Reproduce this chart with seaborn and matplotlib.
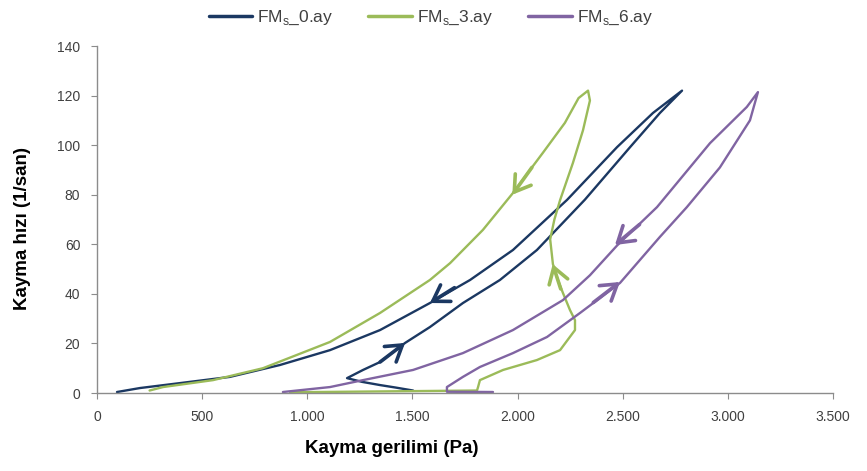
import matplotlib
matplotlib.use("Agg")
import matplotlib.pyplot as plt
import pandas as pd
import seaborn as sns

# Shear stress (Pa) / shear rate (1/s) loops: up-sweep followed by down-sweep
fm0_stress = [1503, 1420, 1346, 1260, 1189, 1265, 1346, 1465, 1583, 1740, 1916, 2092, 2320, 2535, 2677, 2782,
              2644, 2473, 2235, 1978, 1774, 1583, 1346, 1108, 870, 632, 395, 204, 95]
fm0_rate = [1.0, 2.2, 3.2, 4.5, 6.0, 9.3, 12.5, 20.2, 26.6, 36.3, 45.6, 57.7, 78.0, 99.2, 113.0, 122.0,
            113.0, 99.2, 77.9, 57.7, 45.6, 36.3, 25.4, 17.3, 11.3, 6.5, 4.0, 2.0, 0.4]

fm3_stress = [918, 1807, 1812, 1821, 1931, 2092, 2202, 2273, 2273, 2249, 2216, 2190, 2168, 2155, 2175, 2202,
              2263, 2311, 2344, 2335,
              2290, 2225, 2121, 2068, 1978, 1835, 1679, 1583, 1346, 1108, 789, 552, 314, 250]
fm3_rate = [0.3, 1.0, 2.4, 5.2, 9.3, 13.3, 17.3, 25.4, 29.4, 33.5, 40.3, 46.0, 52.0, 62.0, 70.0, 77.8,
            92.8, 106.0, 118.0, 122.0,
            119.0, 109.0, 97.0, 91.0, 80.7, 65.8, 52.4, 45.6, 32.3, 20.6, 10.0, 5.2, 2.4, 1.0]

fm6_stress = [1883, 1664, 1664, 1740, 1821, 1978, 2140, 2297, 2487, 2677, 2805, 2962, 3105, 3143,
              3090, 2915, 2663, 2473, 2344, 2216, 1978, 1740, 1503, 1265, 1108, 884]
fm6_rate = [0.4, 0.5, 2.4, 6.5, 10.5, 16.1, 22.6, 32.3, 44.4, 63.0, 75.0, 91.0, 110.0, 121.4,
            115.4, 100.8, 75.0, 59.5, 47.5, 37.5, 25.4, 16.1, 9.3, 5.2, 2.4, 0.4]

series_labels = [r"FM$_\mathrm{s}$_0.ay", r"FM$_\mathrm{s}$_3.ay", r"FM$_\mathrm{s}$_6.ay"]
series_colors = ["#1b3862", "#9bbb59", "#8064a2"]

x_ticks = [0, 500, 1000, 1500, 2000, 2500, 3000, 3500]
x_tick_labels = ["0", "500", "1.000", "1.500", "2.000", "2.500", "3.000", "3.500"]
y_ticks = [0, 20, 40, 60, 80, 100, 120, 140]

# Flow-direction chevrons: series index, tail and head (stress, rate)
arrow_series = [0, 0, 1, 1, 2, 2]
arrow_tails_x = [1700, 1346, 2068, 2205, 2580, 2360]
arrow_tails_y = [42.5, 12.5, 91.0, 42.0, 68.0, 36.5]
arrow_heads_x = [1583, 1465, 1975, 2167, 2463, 2487]
arrow_heads_y = [36.3, 20.2, 80.0, 52.0, 59.7, 44.8]

sns.set_style("ticks")
plt.rcParams["font.family"] = ["Liberation Sans", "DejaVu Sans"]
plt.rcParams["mathtext.fontset"] = "custom"
plt.rcParams["mathtext.rm"] = "Liberation Sans"

frames = []
for label, xs, ys in zip(series_labels,
                         [fm0_stress, fm3_stress, fm6_stress],
                         [fm0_rate, fm3_rate, fm6_rate]):
    frames.append(pd.DataFrame({"stress": xs, "rate": ys, "series": label}))
df = pd.concat(frames, ignore_index=True)

fig = plt.figure(figsize=(8.67, 4.71), dpi=100)
ax = fig.add_axes([0.1119, 0.1656, 0.8489, 0.7367])

for label, color in zip(series_labels, series_colors):
    sub = df[df["series"] == label]
    sns.lineplot(data=sub, x="stress", y="rate", sort=False, estimator=None,
                 color=color, linewidth=1.7, ax=ax, label=label)

for s, tx, ty, hx, hy in zip(arrow_series, arrow_tails_x, arrow_tails_y,
                             arrow_heads_x, arrow_heads_y):
    ax.annotate("", xy=(hx, hy), xytext=(tx, ty),
                arrowprops=dict(arrowstyle="->,head_length=1.1,head_width=0.7",
                                color=series_colors[s], lw=2.6,
                                shrinkA=0, shrinkB=0))

ax.set_xlim(0, 3500)
ax.set_ylim(0, 140)
ax.set_xticks(x_ticks)
ax.set_xticklabels(x_tick_labels)
ax.set_yticks(y_ticks)

for side in ("top", "right"):
    ax.spines[side].set_visible(False)
for side in ("left", "bottom"):
    ax.spines[side].set_color("#8c8c8c")
    ax.spines[side].set_linewidth(1.0)
ax.tick_params(axis="both", length=4, width=0.8, color="#8c8c8c",
               labelsize=10, labelcolor="#404040")
ax.tick_params(axis="y", pad=8)
ax.tick_params(axis="x", pad=8)

ax.set_xlabel("Kayma gerilimi (Pa)", fontsize=13.5, fontweight="bold", color="#000000")
ax.set_ylabel("Kayma hızı (1/san)", fontsize=13.5, fontweight="bold", color="#000000")
ax.xaxis.set_label_coords(0.40, -0.135)
ax.yaxis.set_label_coords(-0.09, 0.475)

ax.get_legend().remove()
handles, labels = ax.get_legend_handles_labels()
leg = fig.legend(handles, labels, loc="upper center", bbox_to_anchor=(0.497, 1.015),
                 ncol=3, frameon=False, fontsize=12.5, handlelength=2.5,
                 handletextpad=0.3, columnspacing=2.0)
for t in leg.get_texts():
    t.set_color("#404040")
for h in leg.get_lines():
    h.set_linewidth(2.5)

fig.savefig("out.png", dpi=100, facecolor="white")
